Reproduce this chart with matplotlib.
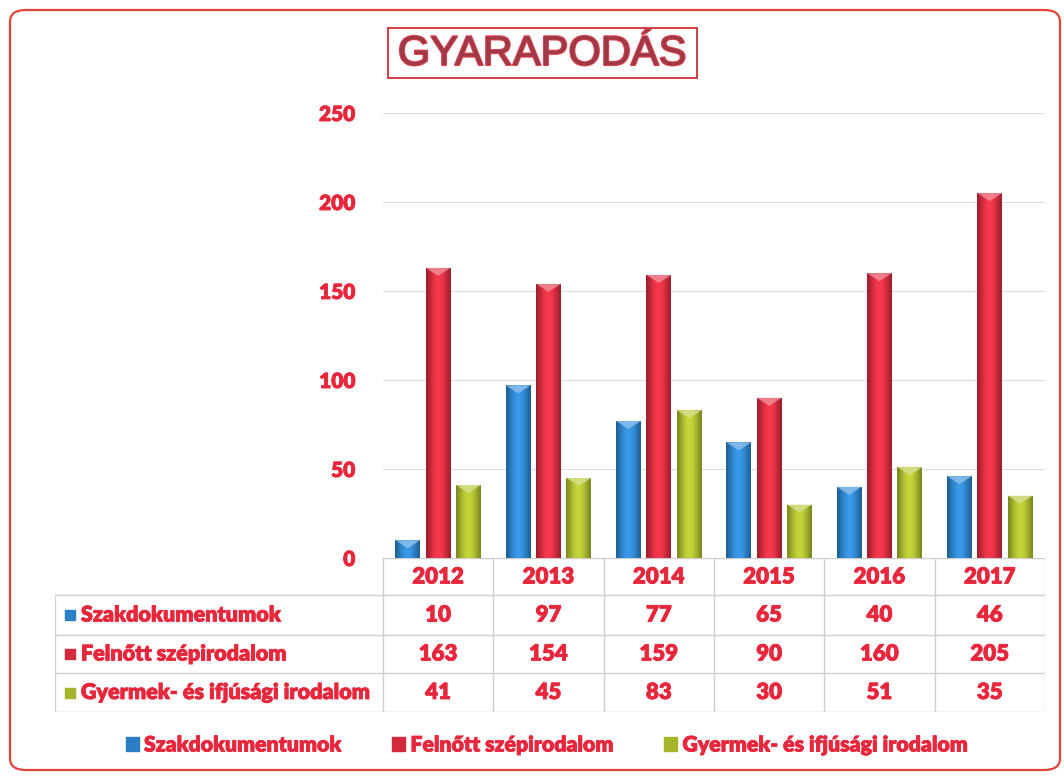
import matplotlib
matplotlib.use("Agg")
import matplotlib.pyplot as plt
import numpy as np
from matplotlib.patches import FancyBboxPatch, Rectangle, Polygon
import matplotlib.patheffects as pe

years = ["2012", "2013", "2014", "2015", "2016", "2017"]
series_names = ["Szakdokumentumok", "Felnőtt szépirodalom", "Gyermek- és ifjúsági irodalom"]
szak = [10, 97, 77, 65, 40, 46]
felnott = [163, 154, 159, 90, 160, 205]
gyermek = [41, 45, 83, 30, 51, 35]
series_values = [szak, felnott, gyermek]
colors = ["#2a7fc6", "#d2293c", "#a6b42a"]
yticks = [0, 50, 100, 150, 200, 250]

RED = "#e8273c"
W, H = 1064, 778
fig = plt.figure(figsize=(W / 100, H / 100), dpi=100)
fig.patch.set_facecolor("white")

def fx(x):
    return x / W

def fy(y):
    return 1 - y / H

heavy = [pe.withStroke(linewidth=0.6, foreground=RED)]

# outer rounded border
border = FancyBboxPatch((fx(10), fy(770)), fx(1050), (760) / H,
                        boxstyle="round,pad=0,rounding_size=0.015",
                        transform=fig.transFigure, fill=False,
                        edgecolor="#e2453c", linewidth=1.6)
fig.patches.append(border)

# title box
fig.patches.append(Rectangle((fx(388), fy(78)), fx(309), 50 / H, transform=fig.transFigure,
                             fill=False, edgecolor="#d23c44", linewidth=1.4))
fig.text(fx(542), fy(54), "GYARAPODÁS", ha="center", va="center",
         family="Liberation Sans", fontsize=30, color="#9c3a46",
         path_effects=[pe.withStroke(linewidth=1.5, foreground="#e0404e")])

# main axes
ax_l, ax_r, ax_t, ax_b = 383, 1045, 113, 558
ax = fig.add_axes([fx(ax_l), fy(ax_b), fx(ax_r - ax_l), (ax_b - ax_t) / H])
ncat = len(years)
x = np.arange(ncat)
bw = 0.225
offs = [-0.275, 0, 0.275]

def shade(color, n=64):
    base = np.array(matplotlib.colors.to_rgb(color))
    t = np.linspace(0, 1, n)
    f = 0.72 + 0.42 * np.sin(np.pi * (t * 0.9 + 0.05)) ** 1.5
    col = np.clip(base[None, :] * f[:, None] + 0.08 * (f[:, None] - 0.72), 0, 1)
    return col[None, :, :]

for vals, off, c in zip(series_values, offs, colors):
    bars = ax.bar(x + off, vals, width=bw, color=c, zorder=2, linewidth=0)
    img = shade(c)
    for b in bars:
        bx, by, bwid, bh = b.get_x(), b.get_y(), b.get_width(), b.get_height()
        im = ax.imshow(img, extent=[bx, bx + bwid, by, by + bh], aspect="auto",
                       zorder=3, interpolation="bilinear")
        im.set_clip_path(b)
        light = np.clip(np.array(matplotlib.colors.to_rgb(c)) * 0.6 + 0.45, 0, 1)
        d = min(4.5, bh)
        ax.add_patch(Polygon([(bx, by + bh), (bx + bwid, by + bh), (bx + bwid * 0.5, by + bh - d)],
                             closed=True, facecolor=light, edgecolor="none", zorder=4, alpha=0.85))

ax.set_xlim(-0.5, ncat - 0.5)
ax.set_ylim(0, 250)
ax.set_yticks(yticks)
ax.set_yticklabels([str(v) for v in yticks], family="Lato", fontweight="heavy",
                   fontsize=15, color=RED)
for t in ax.get_yticklabels():
    t.set_path_effects(heavy)
ax.tick_params(axis="y", length=0, pad=20)
ax.set_xticks([])
ax.grid(axis="y", color="#dcdcdc", linewidth=0.8, zorder=0)
for s in ax.spines.values():
    s.set_visible(False)

# data table
tb_l, tb_r, tb_t, tb_b = 55, 1045, 558, 712
cat_px = (ax_r - ax_l) / ncat
left_data = -0.5 - (ax_l - tb_l) / cat_px
tax = fig.add_axes([fx(tb_l), fy(tb_b), fx(tb_r - tb_l), (tb_b - tb_t) / H])
tax.set_xlim(left_data, ncat - 0.5)
row_edges_px = [558, 595, 635, 673, 712]
def ty(p):
    return (tb_b - p) / (tb_b - tb_t)
tax.set_ylim(0, 1)
tax.axis("off")
gc = "#cfcfcf"
tax.plot([-0.5, ncat - 0.5], [ty(558)] * 2, color=gc, lw=1)
for p in row_edges_px[1:]:
    tax.plot([left_data, ncat - 0.5], [ty(p)] * 2, color=gc, lw=1)
for i in range(ncat + 1):
    tax.plot([i - 0.5] * 2, [ty(712), ty(558)], color=gc, lw=1)
tax.plot([left_data] * 2, [ty(712), ty(595)], color=gc, lw=1)

tfont = dict(family="Lato", fontweight="heavy", fontsize=16, color=RED, path_effects=heavy)
lfont = dict(tfont, fontsize=15.5)
for i, yr in enumerate(years):
    tax.text(i, ty(577), yr, ha="center", va="center", **tfont)
for r, (name, vals, c) in enumerate(zip(series_names, series_values, colors)):
    yc = (ty(row_edges_px[r + 1]) + ty(row_edges_px[r + 2])) / 2
    for i, v in enumerate(vals):
        tax.text(i, yc, str(v), ha="center", va="center", **tfont)
    tax.text(left_data + 0.235, yc, name, ha="left", va="center", **lfont)
    tax.scatter([left_data + 0.14], [yc], marker="s", s=60, color=c, zorder=5)

# legend
leg = fig.legend([Rectangle((0, 0), 1, 1, color=c) for c in colors], series_names,
                 loc="center", bbox_to_anchor=(fx(547), fy(745)), ncol=3, frameon=False,
                 handlelength=0.6, handleheight=0.6, handletextpad=0.25, columnspacing=2.4,
                 prop=dict(family="Lato", weight="heavy", size=15.3))
for t in leg.get_texts():
    t.set_color(RED)
    t.set_path_effects(heavy)

fig.savefig("out.png", dpi=100)
